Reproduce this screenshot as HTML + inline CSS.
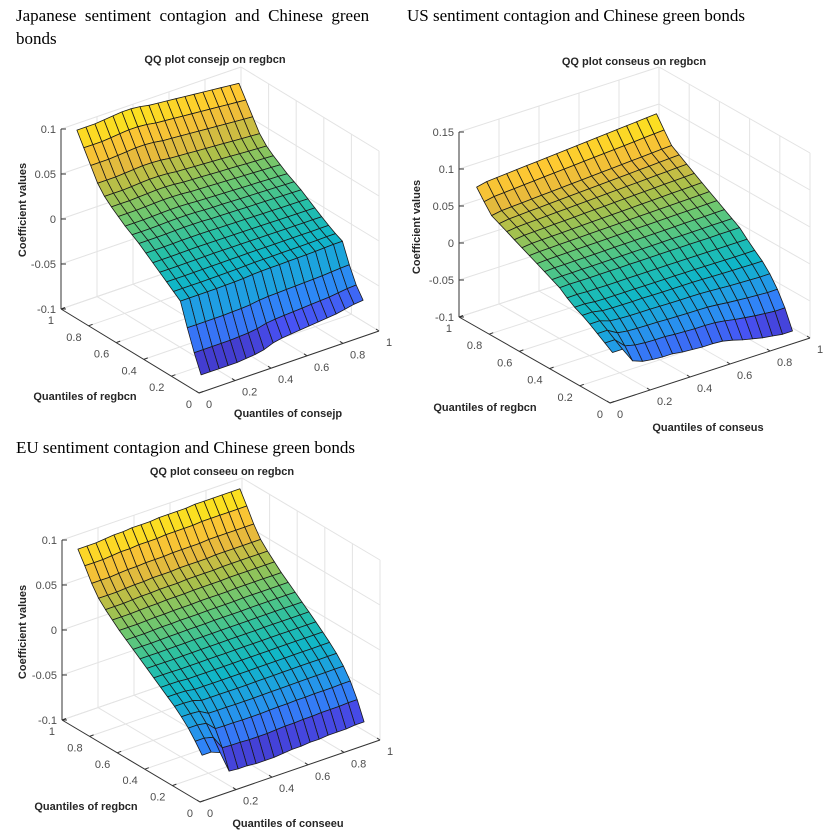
<!DOCTYPE html>
<html><head><meta charset="utf-8">
<style>
body{margin:0;background:#fff;}
#wrap{position:relative;width:828px;height:840px;overflow:hidden;background:#fff;font-family:"Liberation Serif",serif;}
.hd{position:absolute;font-size:17px;color:#000;white-space:nowrap;}
svg text{font-family:"Liberation Sans",sans-serif;}
</style></head><body>
<div id="wrap">
<div class="hd" style="left:16px;top:6px;">Japanese&nbsp; sentiment&nbsp; contagion&nbsp; and&nbsp; Chinese&nbsp; green</div>
<div class="hd" style="left:16px;top:29px;">bonds</div>
<div class="hd" style="left:407px;top:6px;">US sentiment contagion and Chinese green bonds</div>
<div class="hd" style="left:16px;top:438px;">EU sentiment contagion and Chinese green bonds</div>
<svg id="svg" width="828" height="840" style="position:absolute;left:0;top:0"></svg>
</div>
<script>
// Grid quantiles (x = second variable, y = regbcn)
const quantiles = [0.05,0.1,0.15,0.2,0.25,0.3,0.35,0.4,0.45,0.5,0.55,0.6,0.65,0.7,0.75,0.8,0.85,0.9,0.95];
const axisTicks = [0,0.2,0.4,0.6,0.8,1];
const axisTickLabels = ["0","0.2","0.4","0.6","0.8","1"];
// Plot 1: consejp
const jpRow = [-0.088,-0.068,-0.045,-0.02,-0.014,-0.008,-0.002,0.004,0.01,0.016,0.021,0.026,0.032,0.038,0.045,0.055,0.07,0.085,0.1];
const jpColFront = [0,0,0,0,0,0.001,0.002,0.004,0.008,0.01,0.011,0.012,0.013,0.014,0.015,0.016,0.018,0.02,0.021];
const jpColBack = [0,0,0,0.001,0.002,0.003,0.003,0.002,0,-0.001,-0.002,-0.003,-0.004,-0.005,-0.006,-0.007,-0.008,-0.009,-0.01];
const jpZTicks = [-0.1,-0.05,0,0.05,0.1];
const jpZLabels = ["-0.1","-0.05","0","0.05","0.1"];
// Plot 2: conseus
const usRow = [-0.042,-0.035,-0.028,-0.021,-0.015,-0.01,-0.003,0.005,0.01,0.015,0.02,0.025,0.03,0.035,0.04,0.045,0.05,0.063,0.077];
const usColFront = [0,0,-0.02,-0.025,-0.027,-0.028,-0.028,-0.03,-0.031,-0.032,-0.032,-0.033,-0.036,-0.04,-0.043,-0.046,-0.048,-0.05,-0.05];
const usColBack = [0,0.003,0.004,0.005,0.006,0.007,0.008,0.009,0.01,0.011,0.012,0.013,0.014,0.015,0.016,0.017,0.018,0.019,0.02];
const usZTicks = [-0.1,-0.05,0,0.05,0.1,0.15];
const usZLabels = ["-0.1","-0.05","0","0.05","0.1","0.15"];
// Plot 3: conseeu
const euRow = [-0.056,-0.045,-0.035,-0.027,-0.02,-0.014,-0.008,-0.002,0.004,0.01,0.016,0.022,0.028,0.035,0.042,0.05,0.062,0.077,0.091];
const euColFront = [0,0,-0.004,-0.028,-0.029,-0.029,-0.03,-0.03,-0.03,-0.029,-0.028,-0.028,-0.027,-0.027,-0.026,-0.026,-0.026,-0.025,-0.025];
const euColBack = [0,0,0,0.001,0.002,0.002,0.003,0.003,0.003,0.004,0.004,0.004,0.004,0.005,0.005,0.005,0.005,0.005,0.005];
const euZTicks = [-0.1,-0.05,0,0.05,0.1];
const euZLabels = ["-0.1","-0.05","0","0.05","0.1"];

const NS="http://www.w3.org/2000/svg";
const svg=document.getElementById('svg');
const parula=[[62,38,168],[72,82,244],[46,135,247],[30,160,225],[16,182,200],[40,192,165],[105,200,115],[170,192,75],[232,186,60],[254,200,50],[249,240,20]];
function cmap(t){t=Math.max(0,Math.min(1,t));const s=t*(parula.length-1);const i=Math.min(parula.length-2,Math.floor(s));const f=s-i;
 const a=parula[i],b=parula[i+1];return 'rgb('+a.map((v,k)=>Math.round(v+(b[k]-v)*f)).join(',')+')';}
function mk(tag,attrs,parent){const e=document.createElementNS(NS,tag);for(const k in attrs)e.setAttribute(k,attrs[k]);(parent||svg).appendChild(e);return e;}

function drawPlot(cfg,row,colFront,colBack,zTicks,zLabels){
 const g=mk('g',{});
 
 
 const P=(x,y,z)=>[cfg.O[0]+x*cfg.Ex[0]+y*cfg.Ey[0], cfg.O[1]+x*cfg.Ex[1]+y*cfg.Ey[1]-(z-cfg.zmin)*cfg.k];
 const line=(a,b,st,w,nm)=>{const l=mk('line',{x1:a[0],y1:a[1],x2:b[0],y2:b[1],stroke:st,'stroke-width':w},g);
   
   return l;};
 const grid='#e3e3e3';
 axisTicks.forEach(t=>{
  line(P(t,1,cfg.zmin),P(t,1,cfg.zmax),grid,1,'grid-line');
  line(P(1,t,cfg.zmin),P(1,t,cfg.zmax),grid,1,'grid-line');
  line(P(t,0,cfg.zmin),P(t,1,cfg.zmin),grid,1,'grid-line');
  line(P(0,t,cfg.zmin),P(1,t,cfg.zmin),grid,1,'grid-line');
 });
 zTicks.forEach(z=>{
  line(P(0,1,z),P(1,1,z),grid,1,'grid-line');
  line(P(1,1,z),P(1,0,z),grid,1,'grid-line');
 });
 const ax='#333';
 line(P(0,1,cfg.zmin),P(0,1,cfg.zmax),ax,1,'z-axis');
 line(P(0,1,cfg.zmin),P(0,0,cfg.zmin),ax,1,'y-axis');
 line(P(0,0,cfg.zmin),P(1,0,cfg.zmin),ax,1,'x-axis');
 const txt=(x,y,s,anchor,nm,extra)=>{const t=mk('text',Object.assign({x:x,y:y,'font-size':11,fill:'#4d4d4d','text-anchor':anchor},extra||{}),g);t.textContent=s;
   
   return t;};
 zTicks.forEach((z,i)=>{const p=P(0,1,z);line(p,[p[0]+5,p[1]],ax,1,'z-tick');txt(p[0]-5,p[1]+4,zLabels[i],'end','z-tick-label');});
 axisTicks.forEach((t,i)=>{
  const p=P(0,t,cfg.zmin);line(p,[p[0]+4,p[1]-1.5],ax,1,'y-tick');txt(p[0]-7,p[1]+15,axisTickLabels[i],'end','y-tick-label');
  const q=P(t,0,cfg.zmin);line(q,[q[0]-3,q[1]-2],ax,1,'x-tick');txt(q[0]+7,q[1]+15,axisTickLabels[i],'start','x-tick-label');
 });
 const n=quantiles.length;const Z=[];let zmn=1e9,zmx=-1e9;
 for(let i=0;i<n;i++){Z.push([]);const t=i/(n-1);const wf=Math.pow(1-t,8),wb=Math.pow(t,2);
  for(let j=0;j<n;j++){const v=row[i]+wf*colFront[j]+wb*colBack[j];Z[i].push(v);zmn=Math.min(zmn,v);zmx=Math.max(zmx,v);}}
 const faces=[];
 for(let i=0;i<n-1;i++)for(let j=0;j<n-1;j++){faces.push({i,j,d:0.61*(quantiles[j]+quantiles[j+1])+0.79*(quantiles[i]+quantiles[i+1])});}
 faces.sort((a,b)=>b.d-a.d);
 faces.forEach(f=>{const {i,j}=f;
  const pts=[[j,i],[j+1,i],[j+1,i+1],[j,i+1]].map(([jj,ii])=>P(quantiles[jj],quantiles[ii],Z[ii][jj]));
  const zc=(Z[i][j]+Z[i][j+1]+Z[i+1][j]+Z[i+1][j+1])/4;
  const pg=mk('polygon',{points:pts.map(p=>p[0].toFixed(1)+','+p[1].toFixed(1)).join(' '),fill:cmap((zc-zmn)/(zmx-zmn)),stroke:'#1a1a1a','stroke-width':0.8,'stroke-linejoin':'round'},g);
  
  
 });
 const b={fill:'#262626','font-weight':'bold'};
 txt(cfg.title[0],cfg.title[1],cfg.title[2],'middle','plot-title',b);
 txt(cfg.zl[0],cfg.zl[1],'Coefficient values','middle','z-axis-title',Object.assign({transform:'rotate(-90 '+cfg.zl[0]+' '+cfg.zl[1]+')'},b));
 txt(cfg.yl[0],cfg.yl[1],'Quantiles of regbcn','middle','y-axis-title',b);
 txt(cfg.xl[0],cfg.xl[1],cfg.xl[2],'middle','x-axis-title',b);
}
drawPlot({name:'qq-plot-consejp',O:[199,393],Ex:[180,-62],Ey:[-138,-84],k:900,zmin:-0.1,zmax:0.1,
 title:[215,63,'QQ plot consejp on regbcn'],zl:[26,210],yl:[85,400],xl:[288,417,'Quantiles of consejp']},jpRow,jpColFront,jpColBack,jpZTicks,jpZLabels);
drawPlot({name:'qq-plot-conseus',O:[610,403],Ex:[200,-65],Ey:[-151,-86],k:740,zmin:-0.1,zmax:0.15,
 title:[634,65,'QQ plot conseus on regbcn'],zl:[420,227],yl:[485,411],xl:[708,431,'Quantiles of conseus']},usRow,usColFront,usColBack,usZTicks,usZLabels);
drawPlot({name:'qq-plot-conseeu',O:[200,802],Ex:[180,-62],Ey:[-138,-82],k:900,zmin:-0.1,zmax:0.1,
 title:[222,475,'QQ plot conseeu on regbcn'],zl:[26,632],yl:[86,810],xl:[288,827,'Quantiles of conseeu']},euRow,euColFront,euColBack,euZTicks,euZLabels);
</script>
</body></html>
